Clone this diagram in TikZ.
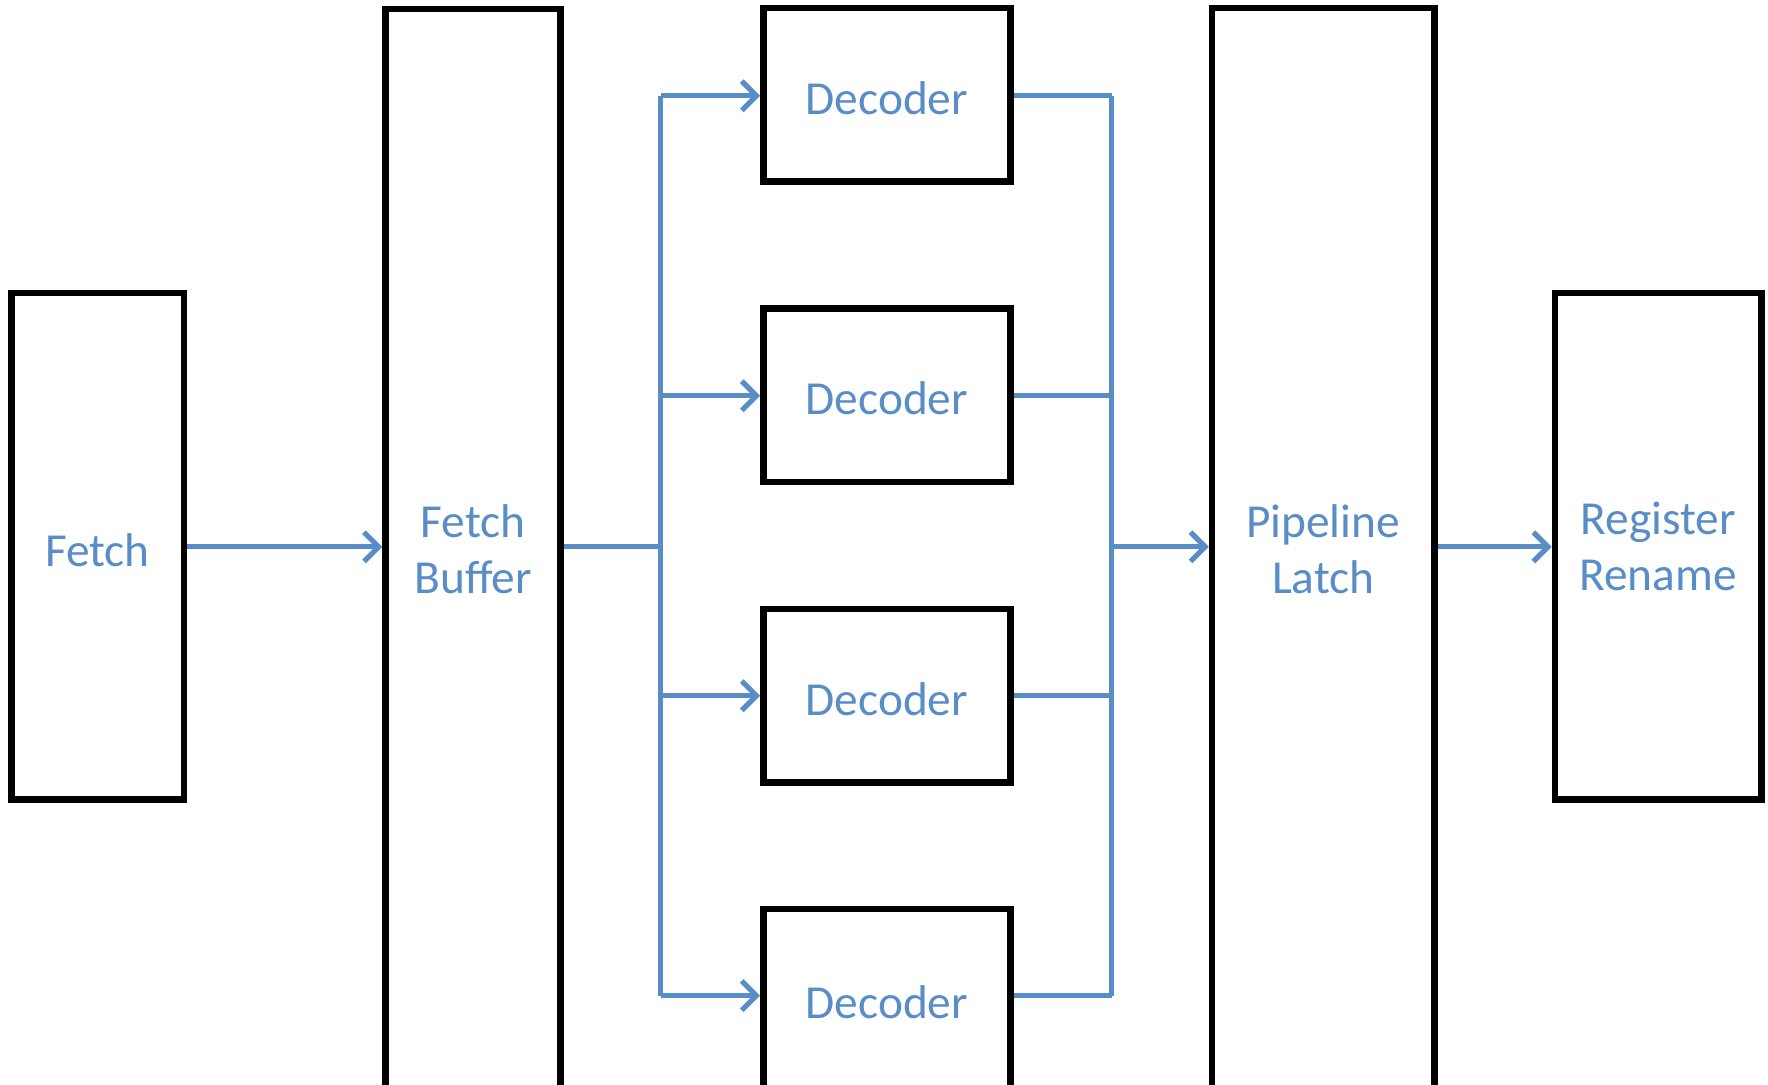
\documentclass[tikz,border=0pt]{standalone}
\usepackage{fontspec}
\setmainfont{Carlito}
\usetikzlibrary{arrows.meta,shadows}
\definecolor{wireblue}{RGB}{88,141,200}

\begin{document}
\begin{tikzpicture}
[x=0.5pt, y=-0.5pt,
every node/.style={shape=rectangle, draw, line width=2.9pt, fill=white, align=center,
  text=wireblue, font=\fontsize{21}{25}\selectfont,
  drop shadow={shadow xshift=1.2pt, shadow yshift=-1.2pt, opacity=0.25}},
oneline/.style={text height=17.5pt, text depth=0pt},
wire/.style={draw=wireblue, line width=2.3pt},
arr/.style={wire, -{Straight Barb[length=6.5pt, width=13pt, line width=2.3pt]}}]
\clip (0,0) rectangle (1568,962);
\node (fetch) [oneline, minimum width=76.5pt, minimum height=224.5pt] at (86.5,484.5) {Fetch};
\node (buf) [minimum width=77.5pt, minimum height=479pt] at (419.5,487) {Fetch\\Buffer};
\node (d1) [oneline, minimum width=109.5pt, minimum height=77pt] at (786.5,84) {Decoder};
\node (d2) [oneline, minimum width=109.5pt, minimum height=77pt] at (786.5,350.5) {Decoder};
\node (d3) [oneline, minimum width=109.5pt, minimum height=77pt] at (786.5,617) {Decoder};
\node (d4) [oneline, minimum width=109.5pt, minimum height=80pt] at (786.5,886) {Decoder};
\node (latch) [minimum width=98.5pt, minimum height=480pt] at (1173.5,487) {Pipeline\\Latch};
\node (rename) [minimum width=91.5pt, minimum height=224.5pt] at (1470.5,484.5) {Register\\Rename};
% rows and buses
\coordinate (lbus) at (586,485);
\coordinate (rbus) at (986,485);
\foreach \i/\y in {1/85,2/351,3/617,4/883}
  \coordinate (r\i) at (0,\y);
\draw[arr] (fetch.east |- lbus) -- (buf.west |- lbus);
\draw[wire] (buf.east |- lbus) -- (lbus);
\draw[wire] (lbus |- r1) -- (lbus |- r4);
\draw[wire] (rbus |- r1) -- (rbus |- r4);
\foreach \i in {1,...,4}{
  \draw[arr] (lbus |- r\i) -- (d\i.west |- r\i);
  \draw[wire] (d\i.east |- r\i) -- (rbus |- r\i);
}
\draw[arr] (rbus) -- (latch.west |- rbus);
\draw[arr] (latch.east |- rbus) -- (rename.west |- rbus);
\end{tikzpicture}
\end{document}
